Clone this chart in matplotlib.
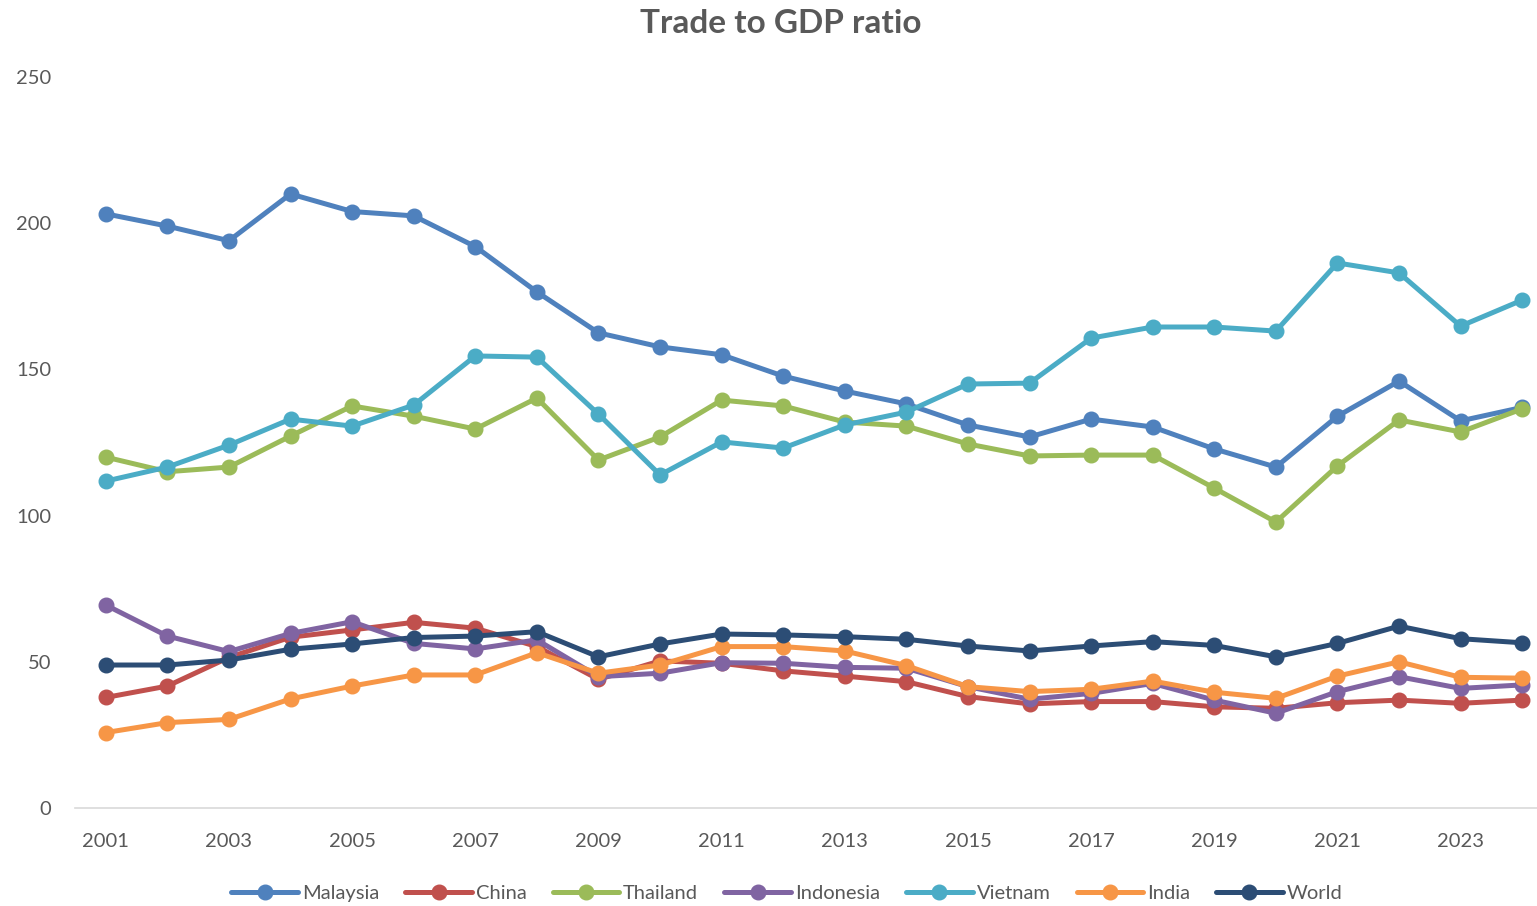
import matplotlib.pyplot as plt
import numpy as np

plt.rcParams['font.family'] = ['Lato', 'DejaVu Sans']

years = np.arange(2001, 2025)

malaysia = [203.2, 199.0, 194.0, 210.0, 204.0, 202.5, 192.0, 176.5, 162.5, 157.7, 155.0, 147.7,
            142.6, 138.2, 131.0, 126.9, 133.0, 130.3, 122.8, 116.6, 134.0, 146.0, 132.4, 137.0]
china = [37.8, 41.7, 51.5, 58.4, 60.9, 63.5, 61.5, 55.2, 44.0, 50.3, 49.5, 46.9,
         45.1, 43.2, 38.1, 35.6, 36.4, 36.4, 34.6, 34.1, 36.0, 36.9, 35.8, 36.9]
thailand = [120.0, 115.0, 116.6, 127.2, 137.5, 134.0, 129.6, 140.2, 119.0, 126.9, 139.5, 137.5,
            132.0, 130.6, 124.5, 120.4, 120.7, 120.7, 109.4, 97.8, 117.0, 132.7, 128.6, 136.5]
indonesia = [69.4, 58.8, 53.5, 59.7, 63.7, 56.3, 54.4, 57.5, 44.9, 46.1, 49.7, 49.5,
             48.1, 47.8, 41.5, 37.2, 39.2, 42.6, 36.9, 32.4, 39.8, 44.9, 40.9, 42.1]
vietnam = [111.8, 116.6, 124.1, 133.0, 130.6, 137.8, 154.6, 154.2, 134.7, 113.9, 125.2, 123.1,
           131.0, 135.4, 145.0, 145.3, 160.7, 164.5, 164.5, 163.1, 186.4, 183.0, 164.8, 173.7]
india = [25.8, 29.2, 30.3, 37.3, 41.7, 45.5, 45.5, 53.1, 46.1, 48.9, 55.2, 55.2,
         53.7, 48.7, 41.5, 39.8, 40.6, 43.4, 39.6, 37.5, 45.1, 50.0, 44.7, 44.4]
world = [48.9, 48.9, 50.6, 54.3, 56.1, 58.3, 58.8, 60.3, 51.7, 56.1, 59.5, 59.2,
         58.6, 57.7, 55.4, 53.7, 55.4, 56.9, 55.6, 51.7, 56.3, 62.2, 57.9, 56.5]

series = [
    ("Malaysia", malaysia, "#4F81BD"),
    ("China", china, "#C0504D"),
    ("Thailand", thailand, "#9BBB59"),
    ("Indonesia", indonesia, "#8064A2"),
    ("Vietnam", vietnam, "#4BACC6"),
    ("India", india, "#F79646"),
    ("World", world, "#2C4D75"),
]

fig = plt.figure(figsize=(15.37, 9.06), dpi=100)
ax = fig.add_axes([75 / 1537, 98 / 906, (1553 - 75) / 1537, 731 / 906])

for name, vals, col in series:
    ax.plot(years, vals, color=col, lw=3.6, marker='o', markersize=10.5,
            label=name, solid_capstyle='round')

ax.set_xlim(2000.5, 2024.5)
ax.set_ylim(0, 250)
ax.set_yticks([0, 50, 100, 150, 200, 250])
ax.set_xticks(years[::2])

for s in ['top', 'right', 'left']:
    ax.spines[s].set_visible(False)
ax.spines['bottom'].set_color('#D9D9D9')
ax.spines['bottom'].set_linewidth(1.2)
ax.tick_params(axis='both', length=0, labelsize=14.5, labelcolor='#595959')
ax.tick_params(axis='x', pad=18)
ax.tick_params(axis='y', pad=17)

fig.suptitle("Trade to GDP ratio", x=0.508, y=0.99, fontsize=24,
             fontweight='bold', color='#595959')

fig.legend(loc='center', bbox_to_anchor=(0.512, 0.014), ncol=7, frameon=False,
           fontsize=14.5, labelcolor='#595959', handlelength=3.3, handletextpad=0.2,
           columnspacing=1.3)

fig.savefig('out.png', dpi=100)
